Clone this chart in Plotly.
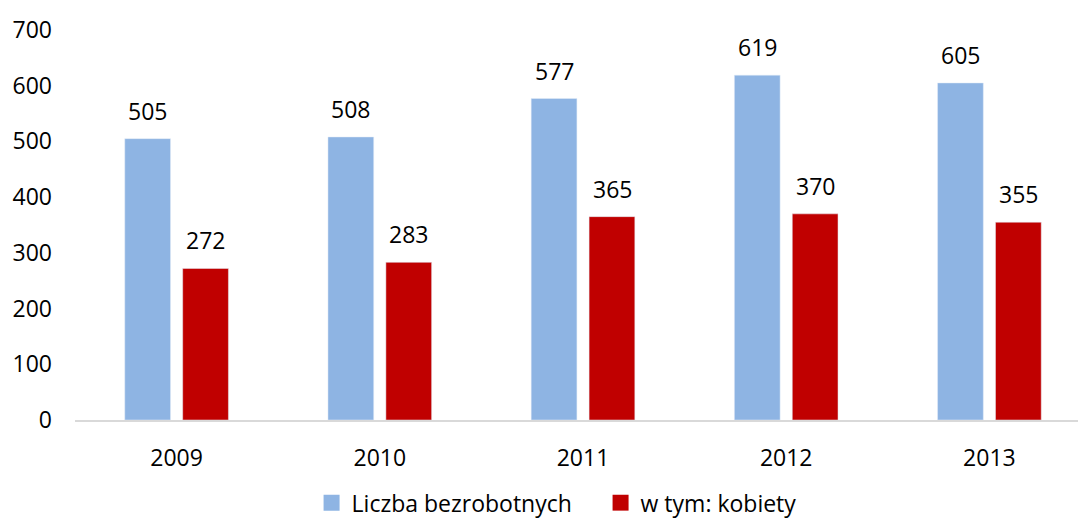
import plotly.graph_objects as go

years = ["2009", "2010", "2011", "2012", "2013"]
unemployed = [505, 508, 577, 619, 605]
women = [272, 283, 365, 370, 355]
name_total = "Liczba bezrobotnych"
name_women = "w tym: kobiety"
y_ticks = [0, 100, 200, 300, 400, 500, 600, 700]

BLUE = "#8EB4E3"
RED = "#C00000"
FONT = "Open Sans"
FS = 23

fig = go.Figure()
fig.add_trace(go.Bar(x=years, y=unemployed, name=name_total, marker_color=BLUE, showlegend=False))
fig.add_trace(go.Bar(x=years, y=women, name=name_women, marker_color=RED, showlegend=False))
# legend proxies with larger square markers
fig.add_trace(go.Scatter(x=[years[0]], y=[None], mode="markers", name=name_total,
                         marker=dict(symbol="square", size=16, color=BLUE)))
fig.add_trace(go.Scatter(x=[years[0]], y=[None], mode="markers", name=name_women,
                         marker=dict(symbol="square", size=16, color=RED)))

for i, v in enumerate(unemployed):
    fig.add_annotation(x=i, y=v, xref="x", yref="y", text=str(v), showarrow=False,
                       xshift=-29, yshift=28, yanchor="middle",
                       font=dict(size=FS, color="#000000", family=FONT))
for i, v in enumerate(women):
    fig.add_annotation(x=i, y=v, xref="x", yref="y", text=str(v), showarrow=False,
                       xshift=29, yshift=28, yanchor="middle",
                       font=dict(size=FS, color="#000000", family=FONT))

fig.update_layout(
    width=1078, height=520,
    margin=dict(l=75, r=0, t=30, b=100, autoexpand=False),
    paper_bgcolor="white", plot_bgcolor="white",
    barmode="group", bargap=0.43, bargroupgap=0.21,
    font=dict(family=FONT, size=FS, color="#000000"),
    showlegend=True,
    legend=dict(orientation="h", x=0.524, xanchor="center", y=-0.212, yanchor="middle",
                font=dict(size=FS, family=FONT), itemsizing="trace", entrywidth=244),
    xaxis=dict(type="category", range=[-0.5, 4.436], showline=True, linecolor="#D9D9D9",
               linewidth=2, showgrid=False, ticks="", ticklabelstandoff=16, zeroline=False,
               automargin=False),
    yaxis=dict(range=[0, 700], tickvals=y_ticks, showgrid=False, showline=False,
               zeroline=False, ticks="", ticklabelstandoff=22, automargin=False),
)

fig.write_html("out.html", config={"displayModeBar": False},
               post_script="document.body.style.margin='0';")
